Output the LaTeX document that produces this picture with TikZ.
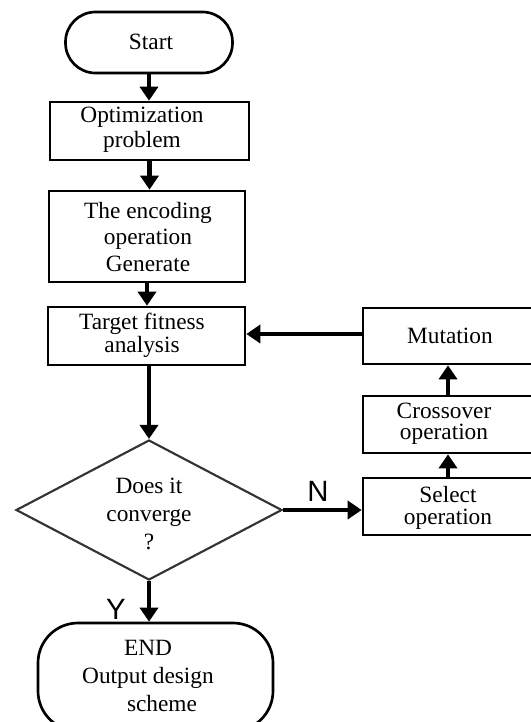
\documentclass[tikz,border=0pt]{standalone}
\usepackage{fontspec}
\setmainfont{Liberation Serif}
\newfontfamily\sansf{Liberation Sans}
\usetikzlibrary{shapes.geometric,arrows.meta}
\begin{document}
\begin{tikzpicture}[x=0.75pt,y=-0.75pt,
  txt/.style={font=\fontsize{17.5}{19.5}\selectfont,align=center,inner sep=0pt},
  box/.style={txt,draw,line width=2pt,rectangle},
  term/.style={txt,draw,line width=2pt,rectangle,rounded corners=22.5pt},
  dec/.style={txt,draw=black!80,line width=1.6pt,diamond,
    minimum width=266*0.75pt,minimum height=140*0.75pt},
  arr/.style={line width=3.2pt,-{Triangle[length=10.5pt,width=13.5pt]}},
  lab/.style={font=\sansf\fontsize{22}{24}\selectfont,inner sep=0pt}]
\useasboundingbox (0,0) rectangle (531,722);
\clip (0,0) rectangle (531,722);

\node[term,minimum width=167*0.75pt,minimum height=61*0.75pt] (start) at (149,42.5) {};
\node[txt] (tstart) at (151,42) {Start};
\node[box,minimum width=199*0.75pt,minimum height=58*0.75pt] (opt) at (149.5,131) {};
\node[txt,font=\fontsize{17.5}{19}\selectfont] (topt) at (142,130) {Optimization\\problem};
\node[box,minimum width=196*0.75pt,minimum height=91*0.75pt] (enc) at (147,236.5) {};
\node[txt,font=\fontsize{17.5}{20}\selectfont] (tenc) at (148,237) {The encoding\\operation\\Generate};
\node[box,minimum width=197*0.75pt,minimum height=58*0.75pt] (target) at (146.5,336) {};
\node[txt,font=\fontsize{17.5}{17}\selectfont] (ttarget) at (142,335) {Target fitness\\analysis};
\node[box,minimum width=170*0.75pt,minimum height=56*0.75pt] (mut) at (448,336) {};
\node[txt] (tmut) at (450,336) {Mutation};
\node[box,minimum width=170*0.75pt,minimum height=57*0.75pt] (cross) at (448,424.5) {};
\node[txt,font=\fontsize{17.5}{16}\selectfont] (tcross) at (444,424) {Crossover\\operation};
\node[box,minimum width=170*0.75pt,minimum height=57*0.75pt] (sel) at (448,506.5) {};
\node[txt,font=\fontsize{17.5}{16}\selectfont] (tsel) at (448,508) {Select\\operation};
\node[dec] (dia) at (149,510) {};
\node[txt,font=\fontsize{17.5}{21}\selectfont] (tdia) at (149,514) {Does it\\converge\\?};
\node[term,minimum width=235*0.75pt,minimum height=108*0.75pt,rounded corners=30pt] (end) at (155.5,677) {};
\node[txt,font=\fontsize{17.5}{21}\selectfont] (tend) at (148,676) {END\\Output design\\\hspace*{1.2em}scheme};

\draw[arr] (start.south) -- (start.south |- opt.north);
\draw[arr] (opt.south) -- (opt.south |- enc.north);
\draw[arr] (enc.south) -- (enc.south |- target.north);
\draw[arr] (target.south -| dia.north) -- (dia.north);
\draw[arr] (mut.west |- 0,334) -- (target.east |- 0,334);
\draw[arr] (cross.north) -- (mut.south);
\draw[arr] (sel.north) -- (cross.south);
\draw[arr] (dia.east) -- (dia.east -| sel.west);
\draw[arr] (dia.south) -- (dia.south |- end.north);

\node[lab] (nl) at (318,491) {N};
\node[lab] (yl) at (116,609) {Y};
\end{tikzpicture}
\end{document}
